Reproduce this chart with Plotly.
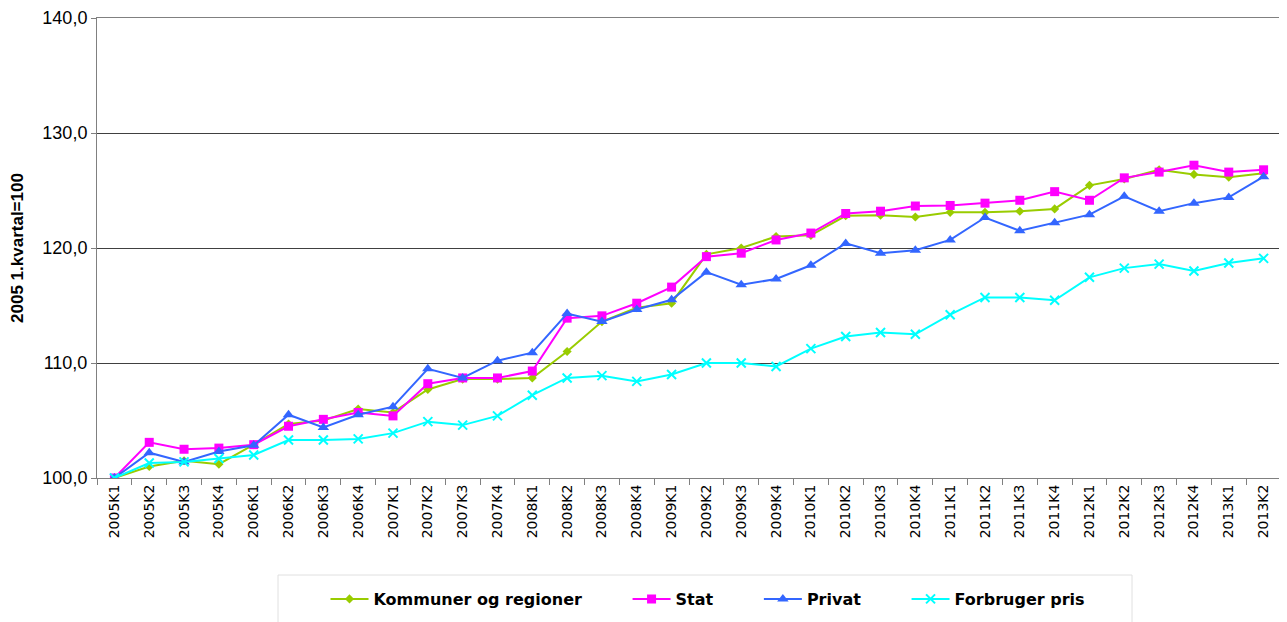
import plotly.graph_objects as go

categories = [f"{y}K{q}" for y in range(2005, 2014) for q in range(1, 5)][:34]

kommuner = [100.0, 101.0, 101.5, 101.2, 102.9, 104.7, 105.0, 106.0, 105.7, 107.7,
            108.6, 108.6, 108.7, 111.0, 113.6, 114.8, 115.2, 119.45, 120.0, 121.0,
            121.1, 122.8, 122.85, 122.7, 123.1, 123.1, 123.2, 123.4, 125.45, 126.0,
            126.8, 126.4, 126.15, 126.5]
stat = [100.0, 103.1, 102.5, 102.6, 102.9, 104.5, 105.1, 105.7, 105.4, 108.2,
        108.7, 108.7, 109.3, 113.9, 114.1, 115.2, 116.6, 119.25, 119.55, 120.7,
        121.3, 123.0, 123.2, 123.65, 123.7, 123.9, 124.15, 124.9, 124.15, 126.1,
        126.6, 127.2, 126.6, 126.8]
privat = [100.0, 102.2, 101.4, 102.3, 102.85, 105.5, 104.4, 105.5, 106.2, 109.5,
          108.7, 110.2, 110.9, 114.3, 113.6, 114.65, 115.5, 117.9, 116.8, 117.3,
          118.5, 120.4, 119.55, 119.8, 120.7, 122.65, 121.5, 122.2, 122.9, 124.5,
          123.2, 123.9, 124.4, 126.2]
forbruger = [100.0, 101.3, 101.4, 101.7, 102.0, 103.3, 103.3, 103.4, 103.9, 104.9,
             104.6, 105.4, 107.2, 108.7, 108.9, 108.4, 109.0, 110.0, 110.0, 109.7,
             111.25, 112.3, 112.65, 112.5, 114.2, 115.7, 115.7, 115.45, 117.45, 118.25,
             118.6, 118.0, 118.7, 119.1]

names = ["Kommuner og regioner", "Stat", "Privat", "Forbruger pris"]
colors = ["#99CC00", "#FF00FF", "#3366FF", "#00FFFF"]
values = [kommuner, stat, privat, forbruger]
markers = [
    dict(symbol="diamond", size=7),
    dict(symbol="square", size=9),
    dict(symbol="triangle-up", size=10),
    dict(symbol="x-thin", size=9, line=dict(width=2, color="#00FFFF")),
]

PAD = "\u00a0" * 8
fig = go.Figure()
for i, (name, vals, color, marker) in enumerate(zip(names, values, colors, markers)):
    label = "<b>" + name + "</b>" + (PAD if i < len(names) - 1 else "")
    fig.add_trace(go.Scatter(x=categories, y=vals, name=label, mode="lines+markers",
                             line=dict(color=color, width=2), marker=dict(color=color, **marker)))

ARIAL = "Liberation Sans, Arial, sans-serif"
DEJAVU = "DejaVu Sans, Verdana, sans-serif"
# page body has an 8px margin; plot area target: x 97..1281, y ~17..478
W, H = 1279, 614
L, T, R, B = 89, 10, 6, 144
PW, PH = W - L - R, H - T - B
def px_x(x):
    return (x - 8 - L) / PW
def px_y(y):
    return (H - B - (y - 8)) / PH

fig.update_layout(
    width=W, height=H,
    margin=dict(l=L, r=R, t=T, b=B, autoexpand=False),
    plot_bgcolor="white", paper_bgcolor="white",
    separators=", ",
    font=dict(family=ARIAL, color="black"),
    showlegend=True,
    legend=dict(orientation="h", x=px_x(708), xanchor="center", y=px_y(599), yanchor="middle",
                font=dict(family=DEJAVU, size=16, color="black"),
                bgcolor="rgba(0,0,0,0)", itemwidth=38, traceorder="normal"),
    shapes=[dict(type="rect", xref="paper", yref="paper",
                 x0=px_x(278), x1=px_x(1132),
                 y0=px_y(575), y1=px_y(640),
                 line=dict(color="#E0E0E0", width=1), layer="below")],
)
fig.update_xaxes(type="category", range=[-0.5, 33.5], tickangle=-90, automargin=False,
                 ticks="outside", ticklen=6, tickson="boundaries", tickcolor="#808080",
                 showline=True, linecolor="#808080", linewidth=1, mirror=True,
                 showgrid=False, tickfont=dict(family=DEJAVU, size=14, color="black"))
fig.update_yaxes(range=[100, 140], dtick=10, tickformat=".1f", automargin=False,
                 ticks="outside", ticklen=5, tickcolor="#808080", ticklabeloverflow="allow",
                 showline=True, linecolor="#808080", linewidth=1, mirror=True,
                 showgrid=True, gridcolor="#404040", gridwidth=1, zeroline=False,
                 tickfont=dict(family=ARIAL, size=18, color="black"),
                 title=dict(text="<b>2005 1.kvartal=100</b>", font=dict(family=ARIAL, size=17, color="black"),
                            standoff=14))

fig.write_html("out.html")
